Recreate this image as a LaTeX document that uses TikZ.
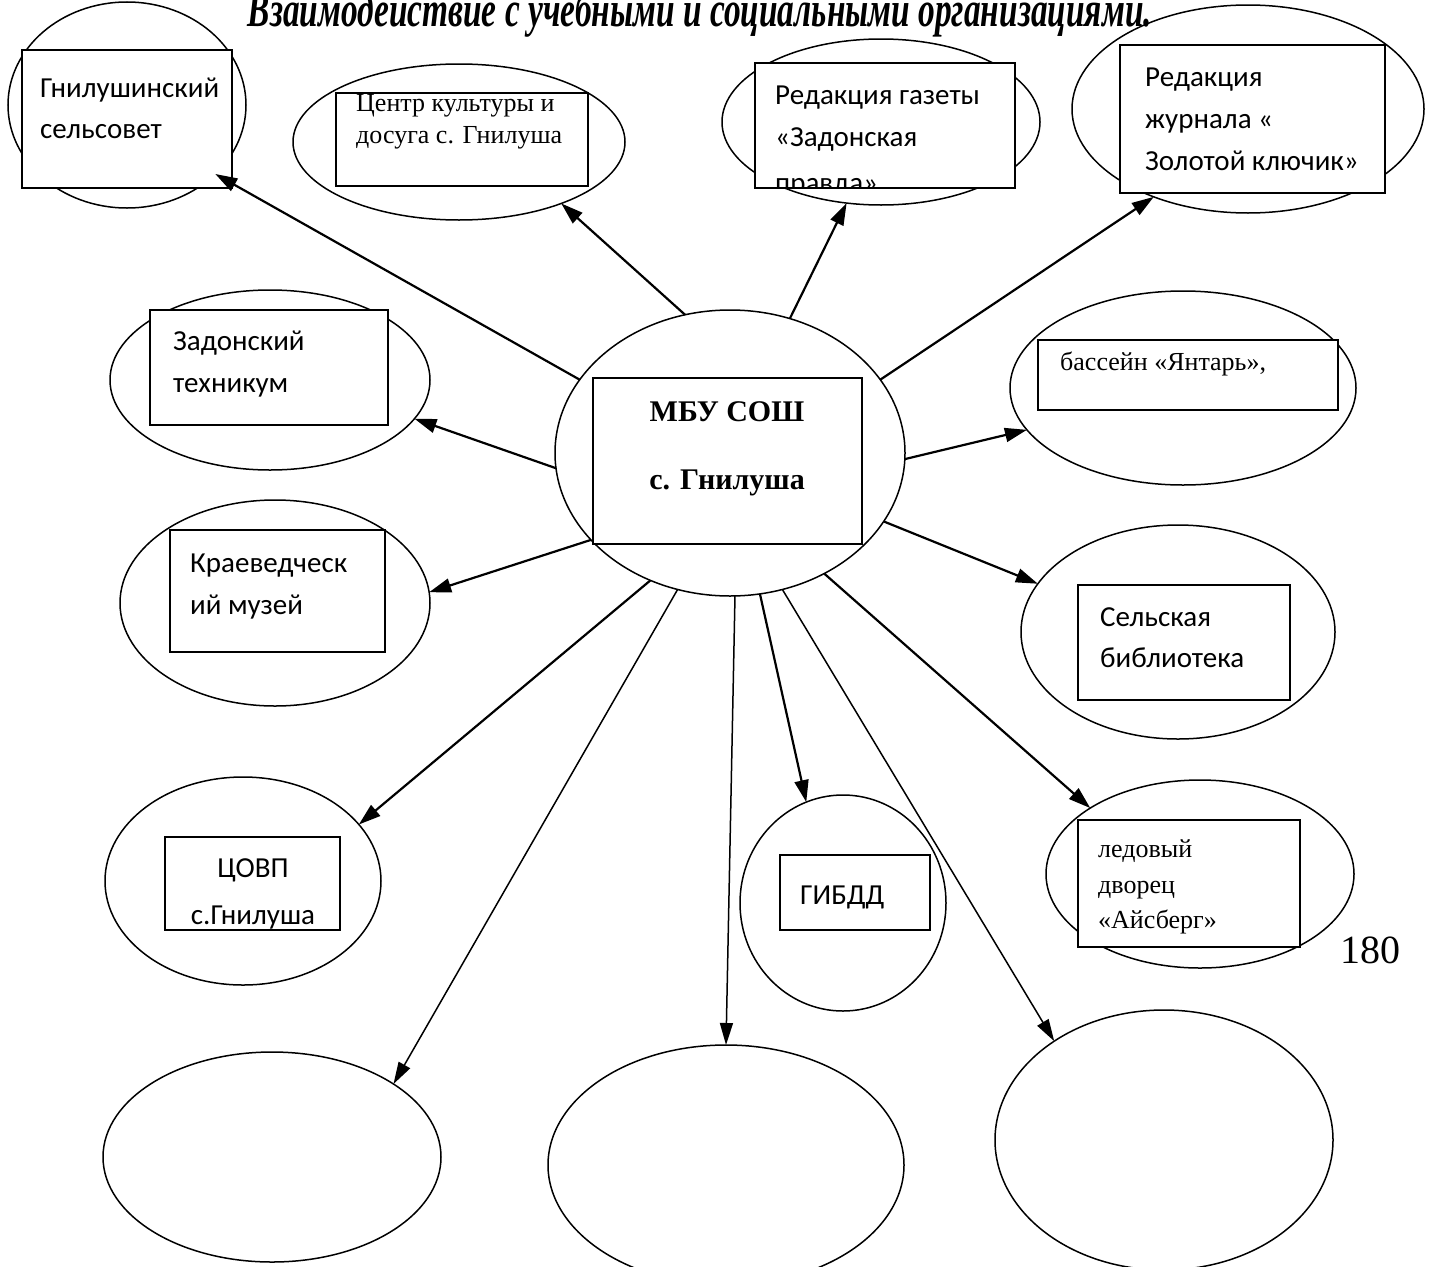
\documentclass[tikz,border=0pt]{standalone}
\usepackage{fontspec}
\setmainfont{Liberation Serif}
\newfontfamily\calfont{Carlito}
\usetikzlibrary{shapes.geometric,arrows.meta}
\tikzset{
 ell/.style={draw, ellipse, line width=1.5pt, inner sep=0pt, outer sep=0pt},
 obox/.style={draw, rectangle, fill=white, line width=1.8pt, inner sep=0pt, outer sep=0pt},
 cal/.style={font=\calfont\fontsize{29}{35}\selectfont, anchor=base west, inner sep=0pt},
 tms/.style={font=\fontsize{26}{31}\selectfont, anchor=base west, inner sep=0pt},
 arr/.style={line width=2.2pt, -{Triangle[length=22pt,width=14pt]}},
 arrthin/.style={line width=1.5pt, -{Triangle[length=22pt,width=13pt]}},
}
\begin{document}
\begin{tikzpicture}[x=1pt,y=-1pt]
\useasboundingbox (0,0) rectangle (1431,1266);
\clip (0,0) rectangle (1431,1266);
% title
\node[anchor=base, inner sep=0pt, font=\fontsize{50}{54}\selectfont\bfseries\itshape] (title) at (700,26)
 {\resizebox{904pt}{\height}{Взаимодействие с учебными и социальными организациями.}};
% ellipses
\node[ell, minimum width=238pt, minimum height=206pt] (e1) at (127,105) {};
\node[ell, minimum width=332pt, minimum height=156pt] (e2) at (459,142) {};
\node[ell, minimum width=318pt, minimum height=166pt] (e3) at (881,122) {};
\node[ell, minimum width=352pt, minimum height=208pt] (e4) at (1248,109) {};
\node[ell, minimum width=320pt, minimum height=180pt] (e5) at (270,380) {};
\node[ell, minimum width=350pt, minimum height=286pt] (c) at (730,453) {};
\node[ell, minimum width=346pt, minimum height=194pt] (e7) at (1183,388) {};
\node[ell, minimum width=310pt, minimum height=206pt] (e8) at (275,603) {};
\node[ell, minimum width=314pt, minimum height=214pt] (e9) at (1178,632) {};
\node[ell, minimum width=276pt, minimum height=208pt] (e10) at (243,881) {};
\node[ell, minimum width=206pt, minimum height=216pt] (e11) at (843,903) {};
\node[ell, minimum width=308pt, minimum height=188pt] (e12) at (1200,874) {};
\node[ell, minimum width=338pt, minimum height=210pt] (e13) at (272,1157) {};
\node[ell, minimum width=356pt, minimum height=240pt] (e14) at (726,1165) {};
\node[ell, minimum width=338pt, minimum height=260pt] (e15) at (1164,1140) {};
% boxes
\node[obox, minimum width=210pt, minimum height=138pt] (b1) at (127,119) {};
\node[obox, minimum width=252pt, minimum height=93pt] (b2) at (462,139.5) {};
\node[obox, minimum width=260pt, minimum height=125pt] (b3) at (885,125.5) {};
\node[obox, minimum width=265pt, minimum height=148pt] (b4) at (1252.5,119) {};
\node[obox, minimum width=238pt, minimum height=115pt] (b5) at (269,367.5) {};
\node[obox, minimum width=269pt, minimum height=166pt] (bc) at (727.5,461) {};
\node[obox, minimum width=300pt, minimum height=70pt] (b7) at (1188,375) {};
\node[obox, minimum width=215pt, minimum height=122pt] (b8) at (277.5,591) {};
\node[obox, minimum width=212pt, minimum height=115pt] (b9) at (1184,642.5) {};
\node[obox, minimum width=175pt, minimum height=93pt] (b10) at (252.5,883.5) {};
\node[obox, minimum width=150pt, minimum height=75pt] (b11) at (855,892.5) {};
\node[obox, minimum width=222pt, minimum height=127pt] (b12) at (1189,883.5) {};
% texts
\node[cal] (t1a) at (40,97) {Гнилушинский};
\node[cal] (t1b) at (40,138) {сельсовет};
\node[tms] (t2a) at (356,111) {Центр культуры и};
\node[tms] (t2b) at (356,143) {досуга с. Гнилуша};
\begin{scope}
\clip (b3.south west) rectangle (b3.north east);
\node[cal] (t3a) at (775,104) {Редакция газеты};
\node[cal] (t3b) at (775,146) {«Задонская};
\node[cal] (t3c) at (775,192) {правда»};
\end{scope}
\node[cal] (t4a) at (1145,86) {Редакция};
\node[cal] (t4b) at (1145,128) {журнала «};
\node[cal] (t4c) at (1145,170) {Золотой ключик»};
\node[cal] (t5a) at (173,350) {Задонский};
\node[cal] (t5b) at (173,392) {техникум};
\node[anchor=base, inner sep=0pt, font=\fontsize{30}{36}\selectfont\bfseries] (tca) at (727,421) {МБУ СОШ};
\node[anchor=base, inner sep=0pt, font=\fontsize{30}{36}\selectfont\bfseries] (tcb) at (727,489) {с. Гнилуша};
\node[tms] (t7) at (1060,370) {бассейн «Янтарь»,};
\node[cal] (t8a) at (190,572) {Краеведческ};
\node[cal] (t8b) at (190,614) {ий музей};
\node[cal] (t9a) at (1100,626) {Сельская};
\node[cal] (t9b) at (1100,667) {библиотека};
\begin{scope}
\clip (b10.south west) rectangle (b10.north east);
\node[cal, anchor=base] (t10a) at (253,877) {ЦОВП};
\node[cal, anchor=base] (t10b) at (253,924) {с.Гнилуша};
\end{scope}
\node[cal] (t11) at (800,904) {ГИБДД};
\node[tms] (t12a) at (1098,857) {ледовый};
\node[tms] (t12b) at (1098,893) {дворец};
\node[tms] (t12c) at (1098,928) {«Айсберг»};
\node[anchor=base west, inner sep=0pt, font=\fontsize{40}{44}\selectfont] (pg) at (1340,963) {180};
% arrows
\draw[arr] (c.154.9) -- (e1.-38.9);
\draw[arr] (c.108.4) -- (e2.-31.7);
\draw[arr] (c.66.3) -- (e3.-113.7);
\draw[arr] (c.26.6) -- (e4.223.7);
\draw[arr] (c.185.6) -- (e5.-15.2);
\draw[arr] (c.-2.7) -- (e7.195.6);
\draw[arr] (c.212.7) -- (e8.4.4);
\draw[arr] (c.-24.2) -- (e9.161.9);
\draw[arr] (c.238) -- (e10.26.6);
\draw[arrthin] (c.249.3) -- (e13.31.9);
\draw[arrthin] (c.-88.2) -- (e14.90);
\draw[arr] (c.-78.1) -- (e11.110.8);
\draw[arrthin] (c.-69.5) -- (e15.138.2);
\draw[arr] (c.-52.3) -- (e12.149.6);
\end{tikzpicture}
\end{document}
